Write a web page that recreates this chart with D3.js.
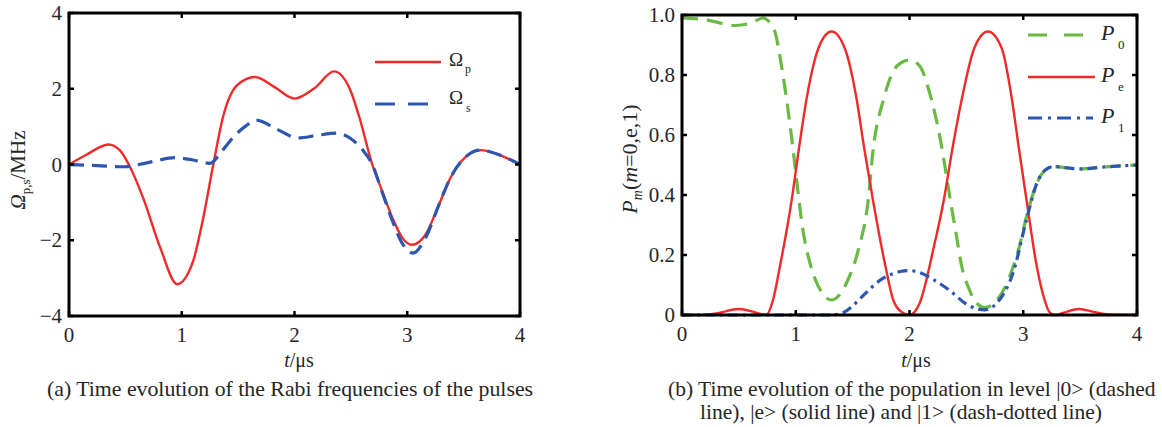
<!DOCTYPE html>
<html><head><meta charset="utf-8">
<script src="https://cdn.jsdelivr.net/npm/d3@7"></script>
<style>
body{margin:0;background:#fff}
svg{display:block}
</style>
</head><body>
<svg id="c" width="1162" height="427" font-family="'Liberation Serif','DejaVu Serif',serif" fill="#262626"></svg>
<script>
// ---------- data (panel a) ----------
const tOmegaP = [0,0.15,0.35,0.45,0.53,0.66,0.81,0.96,1.1,1.19,1.28,1.37,1.49,1.65,1.82,2.0,2.18,2.35,2.49,2.57,2.69,2.78,2.87,2.96,3.04,3.16,3.28,3.38,3.47,3.65,3.82,4.0];
const omegaP  = [0,0.25,0.53,0.38,0,-0.9,-2.2,-3.16,-2.56,-1.42,0,1.3,2.09,2.31,2.05,1.74,2.02,2.46,2.0,1.3,0,-0.72,-1.42,-1.95,-2.12,-1.86,-1.07,-0.37,0.05,0.38,0.25,0];
const tOmegaS = [0,0.25,0.49,0.7,0.94,1.1,1.25,1.35,1.46,1.56,1.66,1.85,2.03,2.2,2.37,2.5,2.6,2.69,2.78,2.87,2.96,3.05,3.16,3.28,3.38,3.47,3.65,3.82,4.0];
const omegaS  = [0,-0.03,-0.06,0.05,0.18,0.12,0.03,0.33,0.73,1.0,1.17,0.92,0.7,0.77,0.83,0.68,0.4,0.0,-0.75,-1.5,-2.1,-2.34,-1.95,-1.07,-0.37,0.05,0.38,0.25,0];
// ---------- data (panel b) ----------
const tP0 = [0,0.2,0.47,0.62,0.71,0.77,0.82,0.875,0.92,0.977,1.02,1.06,1.12,1.17,1.24,1.31,1.38,1.45,1.55,1.637,1.68,1.77,1.89,2.0,2.09,2.166,2.28,2.36,2.41,2.46,2.52,2.59,2.66,2.79,2.88,2.96,3.03,3.12,3.2,3.27,3.4,3.5,3.7,4.0];
const P0  = [0.99,0.985,0.965,0.975,0.99,0.975,0.94,0.83,0.717,0.55,0.41,0.29,0.18,0.12,0.07,0.05,0.065,0.11,0.217,0.383,0.55,0.717,0.83,0.85,0.83,0.755,0.567,0.38,0.27,0.16,0.09,0.04,0.025,0.06,0.128,0.22,0.33,0.44,0.485,0.495,0.49,0.487,0.493,0.5];
const tPe = [0,0.15,0.3,0.5,0.65,0.74,0.8,0.86,0.963,1.03,1.095,1.2,1.315,1.43,1.535,1.6,1.68,1.79,1.857,1.93,2.0,2.09,2.21,2.3,2.38,2.46,2.57,2.69,2.81,2.9,2.96,3.03,3.12,3.18,3.23,3.28,3.35,3.49,3.62,3.75,4.0];
const Pe  = [0,0,0.005,0.02,0.008,0,0.05,0.16,0.38,0.56,0.72,0.89,0.945,0.89,0.72,0.56,0.38,0.16,0.05,0.01,0,0.04,0.22,0.38,0.56,0.72,0.89,0.945,0.89,0.72,0.56,0.38,0.16,0.06,0.01,0,0.007,0.02,0.01,0.002,0];
const tP1 = [0,1.3,1.4,1.5,1.57,1.75,1.92,2.0,2.1,2.21,2.36,2.5,2.66,2.79,2.91,3.03,3.12,3.2,3.27,3.4,3.5,3.7,4.0];
const P1  = [0,0,0.005,0.03,0.056,0.118,0.145,0.148,0.14,0.118,0.08,0.036,0.017,0.05,0.14,0.32,0.44,0.485,0.495,0.49,0.487,0.493,0.5];
// ---------- ticks ----------
const xTicks  = [0,1,2,3,4];
const yTicksA = [-4,-2,0,2,4];
const yTicksB = [0,0.2,0.4,0.6,0.8,1.0];

const RED = "#ee2b2b", BLUE = "#2c56b2", GREEN = "#69b944";
const FS = 21;
const svg = d3.select("#c");

function frame(g, x, y, xt, yt, yfmt){
  const [x0,x1] = x.range(), [y0,y1] = y.range();
  xt.forEach(v=>{
    g.append("line").attr("x1",x(v)).attr("x2",x(v)).attr("y1",y0).attr("y2",y0-5).attr("stroke","#000").attr("stroke-width",2.5);
    g.append("line").attr("x1",x(v)).attr("x2",x(v)).attr("y1",y1).attr("y2",y1+5).attr("stroke","#000").attr("stroke-width",2.5);
    g.append("text").attr("x",x(v)).attr("y",y0+26).attr("text-anchor","middle").attr("font-size",FS).text(v);
  });
  yt.forEach(v=>{
    g.append("line").attr("x1",x0).attr("x2",x0+5).attr("y1",y(v)).attr("y2",y(v)).attr("stroke","#000").attr("stroke-width",2.5);
    g.append("line").attr("x1",x1).attr("x2",x1-5).attr("y1",y(v)).attr("y2",y(v)).attr("stroke","#000").attr("stroke-width",2.5);
    g.append("text").attr("x",x0-7).attr("y",y(v)+7).attr("text-anchor","end").attr("font-size",FS).text(yfmt(v));
  });
  g.append("rect").attr("x",x0).attr("y",y1).attr("width",x1-x0).attr("height",y0-y1)
    .attr("fill","none").attr("stroke","#000").attr("stroke-width",3);
}
function series(g, x, y, ts, vs, color, w, dash){
  const pts = ts.map((t,i)=>[t,vs[i]]);
  const line = d3.line().x(d=>x(d[0])).y(d=>y(d[1])).curve(d3.curveMonotoneX);
  g.append("path").datum(pts).attr("d",line).attr("fill","none").attr("stroke",color)
   .attr("stroke-width",w).attr("stroke-dasharray",dash||null).attr("stroke-linejoin","round");
}

// ---------- panel a ----------
const xa = d3.scaleLinear().domain([0,4]).range([69,520]);
const ya = d3.scaleLinear().domain([-4,4]).range([316,13]);
const ga = svg.append("g");
series(ga, xa, ya, tOmegaP, omegaP, RED, 2.4);
series(ga, xa, ya, tOmegaS, omegaS, BLUE, 3.2, "15,8");
frame(ga, xa, ya, xTicks, yTicksA, v=> v<0 ? "\u2212"+Math.abs(v) : String(v));
ga.append("line").attr("x1",375).attr("x2",441).attr("y1",62).attr("y2",62).attr("stroke",RED).attr("stroke-width",2.4);
ga.append("line").attr("x1",375).attr("x2",434).attr("y1",104).attr("y2",104).attr("stroke",BLUE).attr("stroke-width",3.2).attr("stroke-dasharray","20,13");
ga.append("text").attr("x",449).attr("y",66).attr("font-size",19).text("\u03A9");
ga.append("text").attr("x",465).attr("y",73).attr("font-size",12).text("p");
ga.append("text").attr("x",449).attr("y",104).attr("font-size",19).text("\u03A9");
ga.append("text").attr("x",466).attr("y",112).attr("font-size",12).text("s");
const yla = ga.append("text").attr("transform","translate(25,170) rotate(-90)").attr("text-anchor","middle").attr("font-size",FS);
yla.append("tspan").attr("font-style","italic").text("\u03A9");
yla.append("tspan").attr("font-size",13).attr("dy",5).text("p,s");
yla.append("tspan").attr("dy",-5).text("/MHz");
const xla = ga.append("text").attr("x",299).attr("y",367).attr("text-anchor","middle").attr("font-size",20);
xla.append("tspan").attr("font-style","italic").text("t");
xla.append("tspan").text("/\u03BCs");
ga.append("text").attr("x",290).attr("y",396).attr("text-anchor","middle").attr("font-size",21.8)
  .text("(a) Time evolution of the Rabi frequencies of the pulses");

// ---------- panel b ----------
const xb = d3.scaleLinear().domain([0,4]).range([682,1137]);
const yb = d3.scaleLinear().domain([0,1]).range([315,15]);
const gb = svg.append("g");
series(gb, xb, yb, tP0, P0, GREEN, 3.2, "16,9");
series(gb, xb, yb, tPe, Pe, RED, 2.4);
series(gb, xb, yb, tP1, P1, BLUE, 3.2, "10,5,3,5");
frame(gb, xb, yb, xTicks, yTicksB, v=> v===0 ? "0" : v.toFixed(1));
gb.append("line").attr("x1",1028).attr("x2",1087).attr("y1",35).attr("y2",35).attr("stroke",GREEN).attr("stroke-width",3.2).attr("stroke-dasharray","19,17");
gb.append("line").attr("x1",1028).attr("x2",1095).attr("y1",77).attr("y2",77).attr("stroke",RED).attr("stroke-width",2.4);
gb.append("line").attr("x1",1028).attr("x2",1093).attr("y1",118).attr("y2",118).attr("stroke",BLUE).attr("stroke-width",3.2).attr("stroke-dasharray","14,6,3,6");
[["0",40],["e",82],["1",123]].forEach(([s,yy])=>{
  gb.append("text").attr("x",1101).attr("y",yy).attr("font-size",22).attr("font-style","italic").text("P");
  gb.append("text").attr("x",1118).attr("y",yy+9).attr("font-size",13).text(s);
});
const ylb = gb.append("text").attr("transform","translate(637,159) rotate(-90)").attr("text-anchor","middle").attr("font-size",22);
ylb.append("tspan").attr("font-style","italic").text("P");
ylb.append("tspan").attr("font-size",14).attr("font-style","italic").attr("dy",5).text("m");
ylb.append("tspan").attr("dy",-5).text("(");
ylb.append("tspan").attr("font-style","italic").text("m");
ylb.append("tspan").text("=0,e,1)");
const xlb = gb.append("text").attr("x",916).attr("y",367).attr("text-anchor","middle").attr("font-size",20);
xlb.append("tspan").attr("font-style","italic").text("t");
xlb.append("tspan").text("/\u03BCs");
gb.append("text").attr("x",668).attr("y",396).attr("font-size",21.5)
  .text("(b) Time evolution of the population in level |0> (dashed");
gb.append("text").attr("x",700).attr("y",419).attr("font-size",21.5)
  .text("line), |e> (solid line) and  |1> (dash-dotted line)");
</script>
</body></html>
